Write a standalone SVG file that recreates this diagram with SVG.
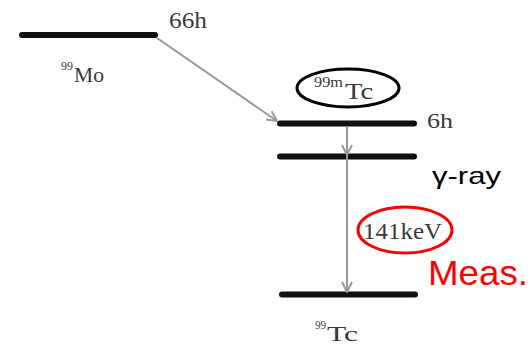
<svg xmlns="http://www.w3.org/2000/svg" width="531" height="346" viewBox="0 0 531 346">
<defs>
<style>
.lvl{stroke:#111;stroke-width:6;stroke-linecap:round}
.ser{font-family:"Liberation Serif",serif;fill:#3a3a3a}
.conn{stroke:#999;stroke-width:2;fill:none}
.ah{stroke:#999;stroke-width:2;fill:none;stroke-linejoin:miter}
</style>
<marker id="arr" viewBox="0 0 12 12" refX="11" refY="6" markerWidth="12" markerHeight="12" markerUnits="userSpaceOnUse" orient="auto">
<path d="M1,1 L11,6 L1,11" class="ah"/>
</marker>
</defs>
<rect width="531" height="346" fill="#fff"/>
<g id="mo99">
<line class="lvl" x1="22" y1="35" x2="155" y2="35"/>
<text class="ser" x="169" y="28" font-size="24" textLength="38" lengthAdjust="spacingAndGlyphs">66h</text>
<text class="ser" x="61" y="70" font-size="13" textLength="12" lengthAdjust="spacingAndGlyphs">99</text>
<text class="ser" x="74" y="82" font-size="22" textLength="30" lengthAdjust="spacingAndGlyphs">Mo</text>
</g>
<g id="tc99m">
<line class="lvl" x1="280" y1="123.5" x2="414" y2="123.5"/>
<line class="lvl" x1="280" y1="156.5" x2="414" y2="156.5"/>
<text class="ser" x="427" y="128" font-size="22" textLength="26" lengthAdjust="spacingAndGlyphs">6h</text>
<ellipse cx="348" cy="88" rx="51" ry="19" fill="none" stroke="#000" stroke-width="3"/>
<text class="ser" x="314" y="87" font-size="14" textLength="29" lengthAdjust="spacingAndGlyphs">99m</text>
<text class="ser" x="345" y="99" font-size="23" textLength="28" lengthAdjust="spacingAndGlyphs">Tc</text>
</g>
<g id="gamma">
<text x="432" y="184" font-family="'Liberation Sans',sans-serif" font-size="24" fill="#000" textLength="69" lengthAdjust="spacingAndGlyphs">γ-ray</text>
<ellipse cx="405" cy="230" rx="47" ry="23" fill="none" stroke="#f00" stroke-width="3"/>
<text class="ser" x="363" y="239" font-size="24" textLength="79" lengthAdjust="spacingAndGlyphs">141keV</text>
<text x="428" y="285" font-family="'Liberation Sans',sans-serif" font-size="35" fill="#f00" textLength="100" lengthAdjust="spacingAndGlyphs">Meas.</text>
</g>
<g id="tc99">
<line class="lvl" x1="282" y1="294.5" x2="415" y2="294.5"/>
<text class="ser" x="315" y="329" font-size="13" textLength="11" lengthAdjust="spacingAndGlyphs">99</text>
<text class="ser" x="327" y="341" font-size="22" textLength="31" lengthAdjust="spacingAndGlyphs">Tc</text>
</g>
<g id="connectors">
<line class="conn" x1="157" y1="38" x2="277" y2="121" marker-end="url(#arr)"/>
<line class="conn" x1="347" y1="127" x2="347" y2="155" marker-end="url(#arr)"/>
<line class="conn" x1="347" y1="155" x2="347" y2="292" marker-end="url(#arr)"/>
</g>
</svg>
